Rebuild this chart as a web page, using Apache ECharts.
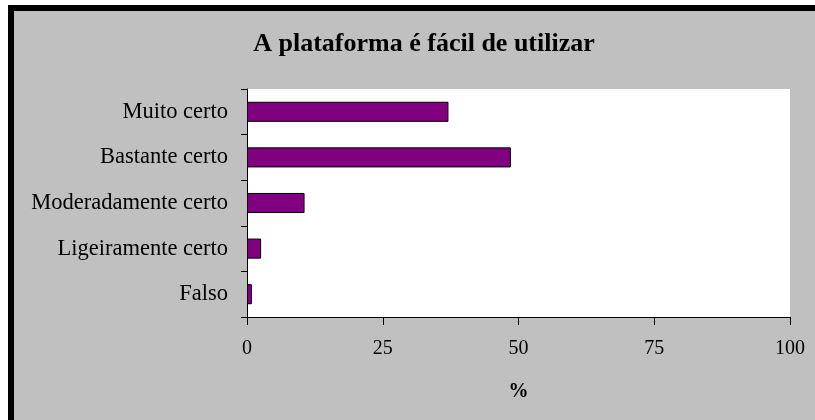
<!DOCTYPE html>
<html>
<head>
<meta charset="utf-8">
<script src="https://cdn.jsdelivr.net/npm/echarts@6/dist/echarts.min.js"></script>
<style>
  html, body { margin: 0; padding: 0; background: #fff; }
  #chart { width: 815px; height: 420px; }
</style>
</head>
<body>
<div id="chart"></div>
<script>
// categorias (de baixo para cima, como o eixo de categorias do echarts)
var categories = ['Falso', 'Ligeiramente certo', 'Moderadamente certo', 'Bastante certo', 'Muito certo'];
// percentagens
var percentages = [0.9, 2.6, 10.6, 48.6, 37.1];
var xTicks = [0, 25, 50, 75, 100];

var serif = '"Liberation Serif", "Times New Roman", serif';
var chart = echarts.init(document.getElementById('chart'));

chart.setOption({
  backgroundColor: '#c0c0c0',
  animation: false,
  title: {
    text: 'A plataforma é fácil de utilizar',
    left: 419,
    textAlign: 'center',
    top: 26,
    textStyle: { fontFamily: serif, fontSize: 26, fontWeight: 'bold', color: '#000' }
  },
  // moldura: branco fora, barra preta à esquerda e em cima
  graphic: [
    { type: 'rect', shape: { x: 0, y: 0, width: 8, height: 420 }, style: { fill: '#fff' }, silent: true },
    { type: 'rect', shape: { x: 0, y: 0, width: 815, height: 5 }, style: { fill: '#fff' }, silent: true },
    { type: 'rect', shape: { x: 8, y: 5, width: 6, height: 415 }, style: { fill: '#000' }, silent: true },
    { type: 'rect', shape: { x: 8, y: 5, width: 807, height: 6 }, style: { fill: '#000' }, silent: true }
  ],
  grid: {
    left: 247,
    right: 25,
    top: 89,
    bottom: 103,
    show: true,
    backgroundColor: '#fff',
    borderWidth: 0
  },
  xAxis: {
    type: 'value',
    min: xTicks[0],
    max: xTicks[xTicks.length - 1],
    interval: 25,
    name: '%',
    nameLocation: 'middle',
    nameGap: 65,
    nameTextStyle: { fontFamily: serif, fontSize: 20, fontWeight: 'bold', color: '#000' },
    axisLine: { show: true, lineStyle: { color: '#000', width: 1 } },
    axisTick: { show: true, length: 8, lineStyle: { color: '#000' } },
    axisLabel: { margin: 22, fontFamily: serif, fontSize: 20, color: '#000' },
    splitLine: { show: false }
  },
  yAxis: {
    type: 'category',
    data: categories,
    axisLine: { show: true, lineStyle: { color: '#000', width: 1 } },
    axisTick: { show: true, length: 6, lineStyle: { color: '#000' } },
    axisLabel: { margin: 19, fontFamily: serif, fontSize: 22.5, color: '#000' },
    splitLine: { show: false }
  },
  series: [{
    type: 'bar',
    data: percentages,
    barCategoryGap: '56%',
    itemStyle: { color: '#800080', borderColor: '#000', borderWidth: 1 }
  }]
});
</script>
</body>
</html>
